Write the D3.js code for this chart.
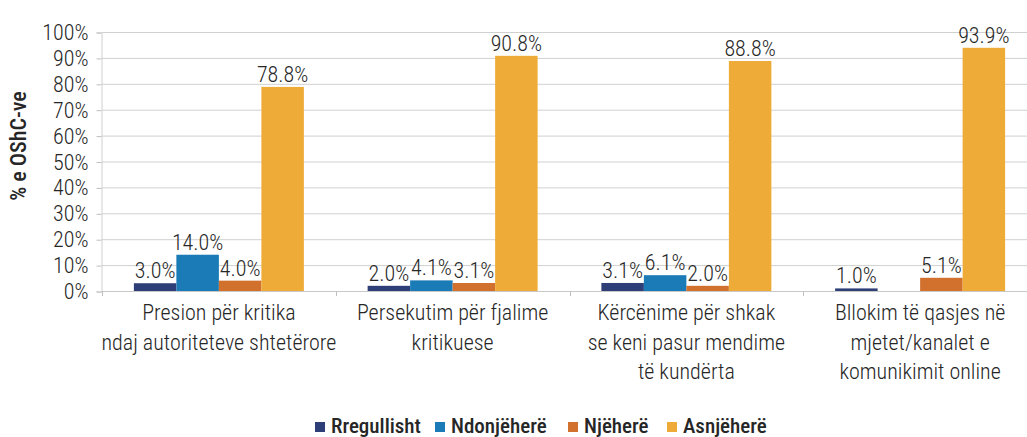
<!DOCTYPE html>
<html>
<head>
<meta charset="utf-8">
<script src="https://cdn.jsdelivr.net/npm/d3@7"></script>
<style>
  body { margin: 0; background: #fff; overflow: hidden; }
  text { font-family: "Roboto Condensed", "Liberation Sans Narrow", "DejaVu Sans Condensed", sans-serif; fill: #262626; font-weight: 300; }
</style>
</head>
<body>
<script>
// data
var categories = [
  ["Presion për kritika", "ndaj autoriteteve shtetërore"],
  ["Persekutim për fjalime", "kritikuese"],
  ["Kërcënime për shkak", "se keni pasur mendime", "të kundërta"],
  ["Bllokim të qasjes në", "mjetet/kanalet e", "komunikimit online"]
];
var seriesNames = ["Rregullisht", "Ndonjëherë", "Njëherë", "Asnjëherë"];
var seriesColors = ["#2e3f78", "#1b7bb6", "#d1712d", "#efab37"];
var rregullisht = [3.0, 2.0, 3.1, 1.0];
var ndonjehere = [14.0, 4.1, 6.1, 0];
var njehere = [4.0, 3.1, 2.0, 5.1];
var asnjehere = [78.8, 90.8, 88.8, 93.9];
var yTicks = [0, 10, 20, 30, 40, 50, 60, 70, 80, 90, 100];

var series = [rregullisht, ndonjehere, njehere, asnjehere];

var svg = d3.select("body").append("svg")
            .attr("width", 1027)
            .attr("height", 437);

var catIdx = d3.range(categories.length);

var x = d3.scaleBand()
          .domain(catIdx)
          .range([102, 1037]);

var xs = d3.scaleBand()
           .domain(d3.range(seriesNames.length))
           .range([0, x.bandwidth()])
           .paddingOuter(0.75);

var y = d3.scaleLinear()
          .domain([0, 100])
          .range([291, 32]);

// gridlines
svg.append("g")
   .selectAll("line")
   .data(yTicks)
   .join("line")
   .attr("x1", 102)
   .attr("x2", 1037)
   .attr("y1", d => y(d) + 0.5)
   .attr("y2", d => y(d) + 0.5)
   .style("stroke", "#d0d0d0")
   .style("stroke-width", 1);

// y axis
var yAxis = svg.append("g")
               .attr("transform", "translate(101.5,0.5)")
               .call(d3.axisLeft(y).tickValues(yTicks).tickFormat(d => d + "%").tickSize(5).tickPadding(8));
yAxis.select(".domain").style("stroke", "#d0d0d0");
yAxis.selectAll(".tick line").style("stroke", "#bfbfbf");
yAxis.selectAll("text").style("font-size", "22px").attr("fill", "#262626");

// x axis baseline + ticks between groups
svg.append("line")
   .attr("x1", 102).attr("x2", 1037)
   .attr("y1", y(0) + 0.5).attr("y2", y(0) + 0.5)
   .style("stroke", "#c8c8c8");
svg.append("g")
   .selectAll("line")
   .data(catIdx)
   .join("line")
   .attr("x1", d => Math.round(x(d)) + 0.5)
   .attr("x2", d => Math.round(x(d)) + 0.5)
   .attr("y1", y(0))
   .attr("y2", y(0) + 5)
   .style("stroke", "#bfbfbf");

// bars
var groups = svg.append("g")
                .selectAll("g")
                .data(series)
                .join("g")
                .style("fill", (d, i) => seriesColors[i]);

groups.each(function(vals, si) {
  var g = d3.select(this);
  g.selectAll("rect")
   .data(vals)
   .join("rect")
   .attr("x", (d, ci) => x(ci) + xs(si))
   .attr("width", xs.bandwidth())
   .attr("y", d => y(d))
   .attr("height", d => y(0) - y(d));

  g.selectAll("text")
   .data(vals)
   .join("text")
   .filter(d => d > 0)
   .attr("x", (d, ci) => x(ci) + xs(si) + xs.bandwidth() / 2)
   .attr("y", d => y(d) - 5)
   .attr("text-anchor", "middle")
   .style("font-size", "22px")
   .text(d => d.toFixed(1) + "%");
});

// category labels
svg.append("g")
   .selectAll("text")
   .data(categories)
   .join("text")
   .attr("text-anchor", "middle")
   .style("font-size", "22px")
   .each(function(lines, ci) {
     d3.select(this).selectAll("tspan")
       .data(lines)
       .join("tspan")
       .attr("x", x(ci) + x.bandwidth() / 2)
       .attr("y", (d, li) => 320 + li * 29.5)
       .text(d => d);
   });

// y title
svg.append("text")
   .attr("transform", "translate(26,146) rotate(-90)")
   .attr("text-anchor", "middle")
   .style("font-size", "22px")
   .style("font-weight", "500")
   .text("% e OShC-ve");

// legend
var legendX = [315, 435, 568, 667];
var legend = svg.append("g")
                .selectAll("g")
                .data(seriesNames)
                .join("g")
                .attr("transform", (d, i) => "translate(" + legendX[i] + ",0)");
legend.append("rect")
      .attr("x", 0).attr("y", 422)
      .attr("width", 10).attr("height", 10)
      .style("fill", (d, i) => seriesColors[i]);
legend.append("text")
      .attr("x", 16).attr("y", 433)
      .style("font-size", "21px")
      .style("font-weight", "500")
      .text(d => d);
</script>
</body>
</html>
